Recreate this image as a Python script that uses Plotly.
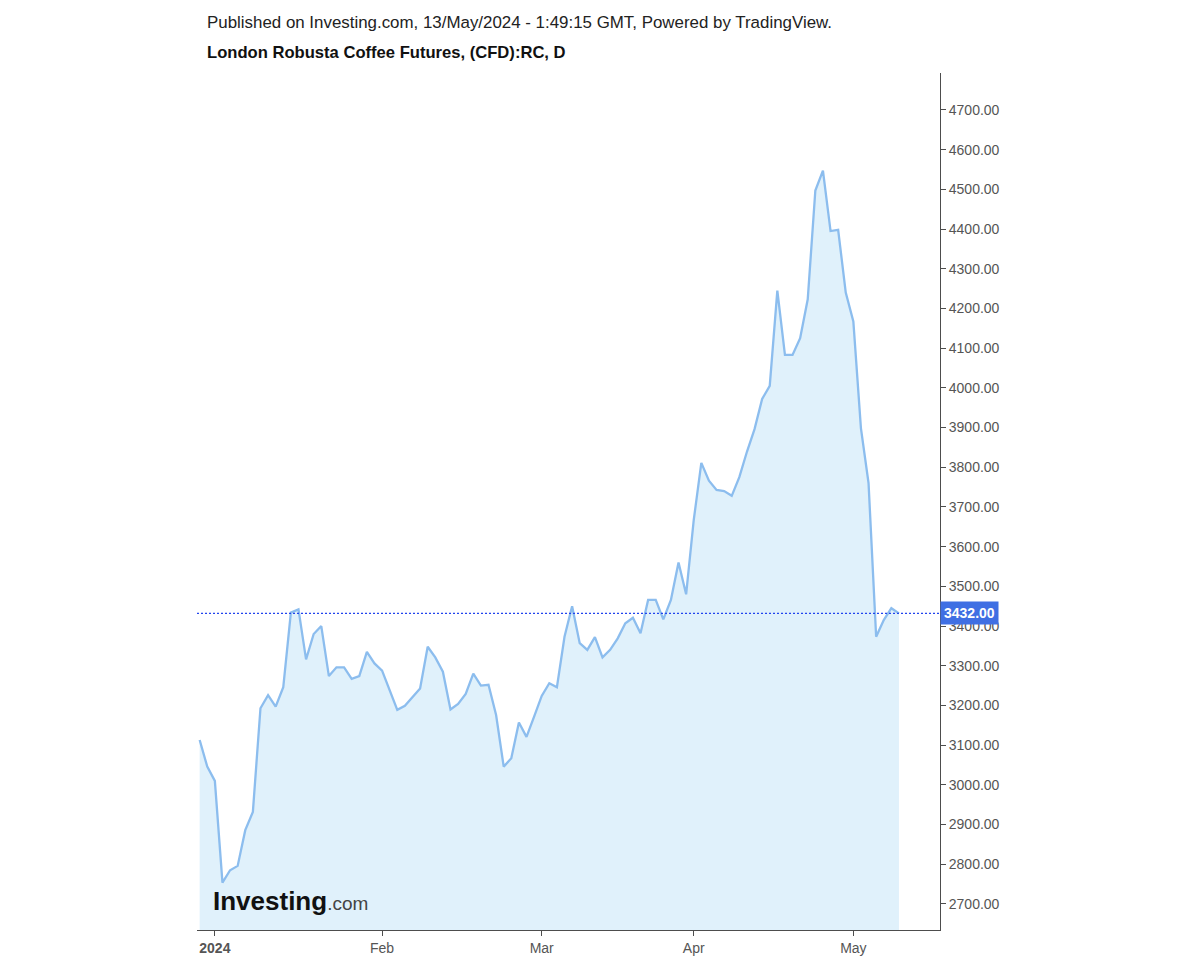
import pandas as pd
import plotly.graph_objects as go

# ── Theme tokens ──────────────────────────────────────────────────────────────
FONT       = "Liberation Sans, Arial, sans-serif"
LINE       = "#8cbdee"
FILL       = "rgba(214,236,249,0.75)"
AXIS       = "#4d4d4d"
TICK_TEXT  = "#555555"
PRICE_BLUE = "#3f6fe3"

# ── Data: daily closes, 28 Dec 2023 → 10 May 2024 (ICE London trading days) ──
HOLIDAYS = ["2024-01-01", "2024-03-29", "2024-04-01", "2024-05-06"]
dates = pd.bdate_range("2023-12-28", "2024-05-10", freq="C", holidays=HOLIDAYS)

closes = [
    3113, 3046, 3010, 2754, 2785, 2796, 2886, 2932, 3193, 3226,
    3197, 3246, 3434, 3442, 3316, 3380, 3400, 3274, 3296, 3296,
    3267, 3274, 3335, 3306, 3288, 3238, 3189, 3199, 3220, 3243,
    3348, 3321, 3285, 3190, 3204, 3229, 3280, 3250, 3252, 3176,
    3046, 3067, 3157, 3121, 3172, 3224, 3256, 3246, 3373, 3450,
    3357, 3340, 3372, 3321, 3340, 3369, 3407, 3421, 3382, 3466,
    3466, 3417, 3466, 3560, 3480, 3667, 3811, 3766, 3743, 3740,
    3728, 3775, 3839, 3896, 3972, 4005, 4245, 4083, 4083, 4125,
    4223, 4497, 4547, 4395, 4398, 4240, 4167, 3898, 3760, 3373,
    3415, 3445, 3432,
]
last_price = 3432.00

month_labels = ["<b>2024</b>", "Feb", "Mar", "Apr", "May"]
y_ticks = list(range(2700, 4800, 100))

# index of first trading day of each month in 2024
idx = list(range(len(closes)))
month_pos = [i for i, d in enumerate(dates)
             if d.year == 2024 and (i == 0 or dates[i - 1].month != d.month)]

fig = go.Figure()

# ── Price line with area fill ────────────────────────────────────────────────
fig.add_trace(go.Scatter(
    x=idx,
    y=closes,
    mode="lines",
    line=dict(color=LINE, width=2.3),
    fill="tozeroy",
    fillcolor=FILL,
    hoverinfo="skip",
    showlegend=False,
))

# ── Last price dotted line ───────────────────────────────────────────────────
fig.add_shape(
    type="line", xref="paper", yref="y",
    x0=0, x1=1, y0=last_price, y1=last_price,
    line=dict(color="#2244ee", width=1.2, dash="2px,2px"),
)

fig.update_layout(
    width=1200,
    height=960,
    paper_bgcolor="white",
    plot_bgcolor="white",
    font=dict(family=FONT, color=TICK_TEXT, size=13),
    margin=dict(l=189, r=268, t=65, b=38),
    xaxis=dict(
        range=[-0.35, 97.4],
        tickmode="array",
        tickvals=month_pos,
        ticktext=month_labels,
        ticks="outside",
        ticklen=5,
        tickcolor=AXIS,
        showline=True,
        linecolor=AXIS,
        linewidth=1,
        showgrid=False,
        zeroline=False,
        tickfont=dict(size=14, color=TICK_TEXT),
    ),
    yaxis=dict(
        side="right",
        range=[2634.5, 4793],
        tickmode="array",
        tickvals=y_ticks,
        tickformat=".2f",
        ticks="outside",
        ticklen=5,
        tickcolor=AXIS,
        showline=True,
        linecolor=AXIS,
        linewidth=1,
        showgrid=False,
        zeroline=False,
        tickfont=dict(size=14, color=TICK_TEXT),
    ),
    annotations=[
        dict(
            text="Published on Investing.com, 13/May/2024 - 1:49:15 GMT, Powered by TradingView.",
            xref="paper", yref="paper", x=0.011, y=1.0595,
            xanchor="left", yanchor="middle", showarrow=False,
            font=dict(size=16.9, color="#222222"),
        ),
        dict(
            text="<b>London Robusta Coffee Futures, (CFD):RC, D</b>",
            xref="paper", yref="paper", x=0.011, y=1.0245,
            xanchor="left", yanchor="middle", showarrow=False,
            font=dict(size=16.6, color="#111111"),
        ),
        # price tag on the axis
        dict(
            text=f"<b>{last_price:.2f}</b>",
            xref="paper", yref="y", x=1.0, y=last_price,
            xanchor="left", yanchor="middle", showarrow=False,
            bgcolor=PRICE_BLUE, borderpad=3,
            font=dict(size=14, color="white"),
        ),
        # watermark logo
        dict(
            text="<b>Investing</b><span style='font-size:19px;color:#444'>.com</span>",
            xref="paper", yref="paper", x=0.0190, y=0.034,
            xanchor="left", yanchor="middle", showarrow=False,
            font=dict(size=26, color="#111111"),
        ),
    ],
)

fig.write_html("out.html")
